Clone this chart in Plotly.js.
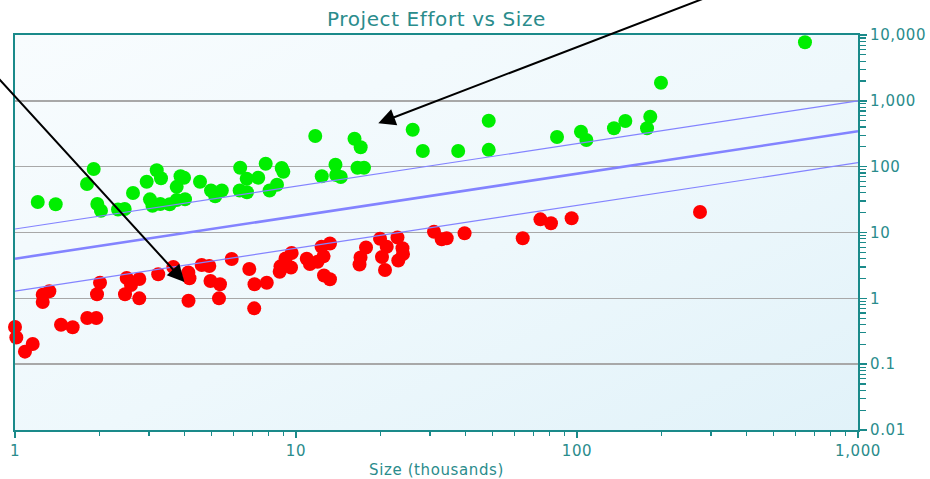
<!DOCTYPE html>
<html>
<head>
<meta charset="utf-8">
<script src="https://cdn.plot.ly/plotly-3.0.1.min.js"></script>
<style>
  html, body { margin: 0; padding: 0; background: #ffffff; }
  #chart { width: 930px; height: 479px; }
  #chart text { letter-spacing: 0.6px; }
</style>
</head>
<body>
<div id="chart"></div>
<script>
// ---- data ----
const greenX = [1.205, 1.396, 1.906, 1.804, 1.963, 2.023, 2.326, 2.457, 2.630, 2.942,
  3.194, 3.308, 3.022, 3.085, 3.289, 3.552, 3.762, 3.882, 3.995, 4.027,
  3.762, 4.554, 4.984, 5.158, 5.445, 6.329, 6.677, 6.303, 6.692, 7.339,
  7.801, 8.895, 9.013, 8.557, 8.054, 11.71, 12.35, 13.82, 13.90, 14.43,
  16.15, 16.99, 16.55, 17.46, 26.02, 28.27, 37.77, 48.51, 48.51, 84.9,
  103.3, 108.0, 135.4, 148.6, 182.3, 177.5, 199.0, 647.6];
const greenY = [29.0, 26.8, 92.1, 54.5, 27.1, 21.4, 22.3, 22.8, 39.8, 59.1,
  88.1, 66.6, 31.9, 25.4, 27.1, 26.9, 49.4, 71.4, 67.7, 32.0,
  31.2, 59.1, 43.4, 35.6, 43.4, 96.4, 65.4, 43.4, 40.9, 68.0,
  110.9, 95.8, 83.6, 53.2, 43.4, 292, 71.6, 106.7, 74.7, 69.7,
  266, 197, 96.4, 96.4, 364, 173, 173, 499, 180, 282,
  340, 254, 383, 494, 574, 383, 1885, 7745];

const redX = [1.0, 1.011, 1.085, 1.156, 1.255, 1.255, 1.325, 1.458, 1.604, 1.808,
  1.947, 1.958, 2.007, 2.463, 2.497, 2.587, 2.769, 2.769, 3.233, 3.659,
  4.138, 4.178, 4.145, 4.618, 4.914, 4.962, 5.364, 5.321, 5.904, 6.82,
  7.118, 7.10, 7.87, 8.807, 8.75, 9.18, 9.65, 9.60, 10.92, 11.21,
  11.93, 12.33, 13.21, 12.53, 12.58, 13.21, 16.97, 16.83, 17.75, 19.91,
  21.03, 20.23, 20.74, 22.97, 23.93, 23.12, 24.03, 30.98, 33.0, 34.38,
  39.8, 64.1, 74.1, 80.8, 95.7, 274];
const redY = [0.366, 0.254, 0.155, 0.202, 1.135, 0.879, 1.283, 0.397, 0.363, 0.502,
  0.502, 1.156, 1.727, 1.151, 2.035, 1.594, 1.965, 1.0, 2.325, 2.99,
  2.467, 2.014, 0.92, 3.21, 3.10, 1.83, 1.638, 1.0, 3.96, 2.79,
  1.638, 0.705, 1.727, 3.06, 2.54, 4.03, 4.88, 2.94, 4.0, 3.32,
  3.60, 6.08, 6.80, 4.35, 2.22, 1.945, 4.17, 3.26, 5.92, 8.05,
  6.08, 4.24, 2.69, 8.39, 5.75, 3.75, 4.71, 10.28, 7.88, 8.16,
  9.72, 8.16, 15.85, 13.79, 16.43, 20.5];

// regression line and its bounds (log-log straight lines)
const lineX  = [1, 1000];
const fitY   = [4.0, 345];
const upperY = [11.3, 1000];
const lowerY = [1.29, 115];

// arrows: head and tail points (data units)
const arrowHeadX = [4.01, 19.63];
const arrowHeadY = [1.77, 456];
const arrowTailX = [0.815, 322.7];
const arrowTailY = [3045, 44540];

// tick labels
const xTickVals = [1, 10, 100, 1000];
const xTickText = ['1', '10', '100', '1,000'];
const yTickVals = [0.01, 0.1, 1, 10, 100, 1000, 10000];
const yTickText = ['0.01', '0.1', '1', '10', '100', '1,000', '10,000'];

const chartTitle = 'Project Effort vs Size';
const xTitle = 'Size (thousands)';

// ---- styling ----
const teal = '#2a8c8c';
const axisTeal = '#1a8a8a';
const lineBlue = '#8383ff';
const fontFam = '"DejaVu Sans", Verdana, sans-serif';

const gradSvg = '<svg xmlns="http://www.w3.org/2000/svg" width="843" height="395">' +
  '<defs><linearGradient id="g" x1="0" y1="0" x2="1" y2="1">' +
  '<stop offset="0" stop-color="#f8fcfe"/><stop offset="0.55" stop-color="#eef8fc"/>' +
  '<stop offset="1" stop-color="#e1f2f9"/></linearGradient></defs>' +
  '<rect width="843" height="395" fill="url(#g)"/></svg>';
const gradUri = 'data:image/svg+xml;charset=utf-8,' + encodeURIComponent(gradSvg);

const traces = [
  { x: greenX, y: greenY, type: 'scatter', mode: 'markers', cliponaxis: false,
    marker: { color: '#00ee00', size: 14, line: { width: 0 } }, hoverinfo: 'x+y' },
  { x: redX, y: redY, type: 'scatter', mode: 'markers', cliponaxis: false,
    marker: { color: '#ff0000', size: 14, line: { width: 0 } }, hoverinfo: 'x+y' },
  { x: lineX, y: upperY, type: 'scatter', mode: 'lines', line: { color: lineBlue, width: 1.2 } },
  { x: lineX, y: fitY, type: 'scatter', mode: 'lines', line: { color: lineBlue, width: 2.6 } },
  { x: lineX, y: lowerY, type: 'scatter', mode: 'lines', line: { color: lineBlue, width: 1.2 } }
];

const annotations = arrowHeadX.map((hx, i) => ({
  x: Math.log10(hx), y: Math.log10(arrowHeadY[i]), xref: 'x', yref: 'y',
  ax: Math.log10(arrowTailX[i]), ay: Math.log10(arrowTailY[i]), axref: 'x', ayref: 'y',
  text: '', showarrow: true, arrowhead: 2, arrowsize: 1.7, arrowwidth: 2,
  arrowcolor: '#000000', standoff: 0, startstandoff: 0
}));

const layout = {
  width: 930, height: 479,
  margin: { l: 15, r: 72, t: 35, b: 49, pad: 0 },
  paper_bgcolor: '#ffffff',
  plot_bgcolor: 'rgba(0,0,0,0)',
  showlegend: false,
  font: { family: fontFam, color: teal, size: 15 },
  title: { text: chartTitle, font: { family: fontFam, size: 20, color: teal },
    x: 436.5 / 930, xref: 'container', xanchor: 'center',
    y: 1 - 19 / 479, yref: 'container', yanchor: 'middle' },
  images: [{ source: gradUri, xref: 'paper', yref: 'paper', x: 0, y: 1,
    sizex: 1, sizey: 1, sizing: 'stretch', xanchor: 'left', yanchor: 'top', layer: 'below' }],
  xaxis: {
    type: 'log', range: [0, 3], autorange: false,
    tickmode: 'array', tickvals: xTickVals, ticktext: xTickText,
    ticks: 'outside', ticklen: 6, tickwidth: 1.5, tickcolor: axisTeal,
    minor: { ticks: 'outside', ticklen: 4, tickwidth: 1.2, tickcolor: axisTeal, dtick: 'D1', showgrid: false },
    showgrid: false, zeroline: false,
    showline: true, linecolor: axisTeal, linewidth: 2, mirror: true,
    tickfont: { family: fontFam, size: 15, color: teal },
    title: { text: xTitle, font: { family: fontFam, size: 15, color: teal }, standoff: 10 }
  },
  yaxis: {
    type: 'log', range: [-2, 4], autorange: false, side: 'right',
    tickmode: 'array', tickvals: yTickVals, ticktext: yTickText,
    ticks: 'outside', ticklen: 7, tickwidth: 1.5, tickcolor: axisTeal,
    minor: { ticks: 'outside', ticklen: 6, tickwidth: 1.2, tickcolor: axisTeal, dtick: 'D1', showgrid: false },
    showgrid: true, gridcolor: '#a8a8a8', gridwidth: 1.5, zeroline: false,
    showline: true, linecolor: axisTeal, linewidth: 2, mirror: true,
    tickfont: { family: fontFam, size: 15, color: teal }
  },
  annotations: annotations
};

Plotly.newPlot('chart', traces, layout, { staticPlot: true, displayModeBar: false });
</script>
</body>
</html>
